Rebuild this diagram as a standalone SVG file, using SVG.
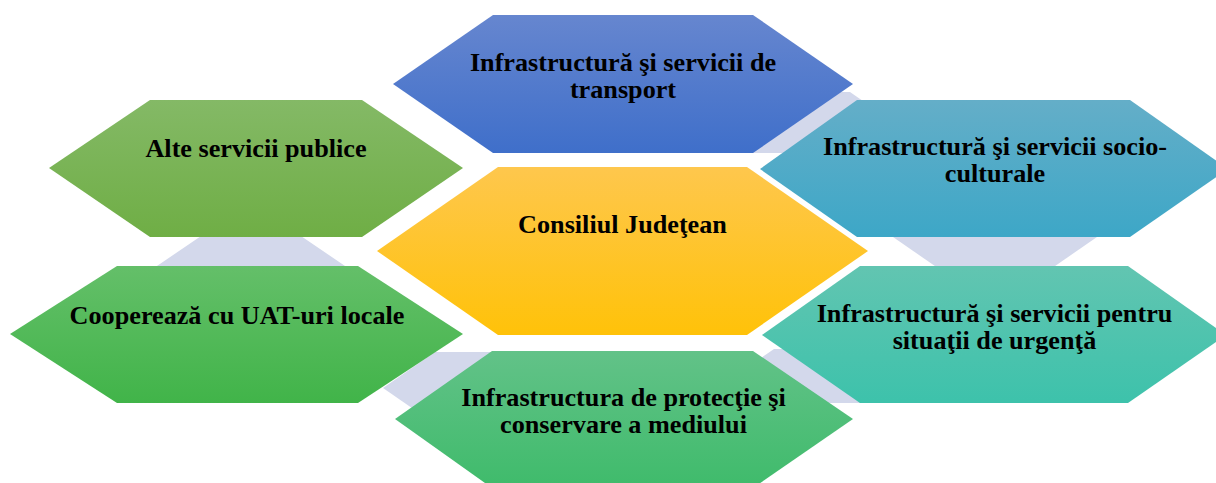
<svg xmlns="http://www.w3.org/2000/svg" width="1216" height="483" viewBox="0 0 1216 483">
<style>
.t{font-family:"Liberation Serif","Times New Roman",serif;font-weight:bold;font-size:26.2px;fill:#000;text-anchor:middle}
.lav{fill:#d3d8eb}
</style>
<defs>
<linearGradient id="gBlue" x1="0" y1="0" x2="0" y2="1"><stop offset="0" stop-color="#6686cf"/><stop offset="1" stop-color="#3f6fca"/></linearGradient>
<linearGradient id="gGreen1" x1="0" y1="0" x2="0" y2="1"><stop offset="0" stop-color="#84b966"/><stop offset="1" stop-color="#6fae45"/></linearGradient>
<linearGradient id="gTeal1" x1="0" y1="0" x2="0" y2="1"><stop offset="0" stop-color="#64aec8"/><stop offset="1" stop-color="#3da7c7"/></linearGradient>
<linearGradient id="gYellow" x1="0" y1="0" x2="0" y2="1"><stop offset="0" stop-color="#fec74d"/><stop offset="1" stop-color="#ffc209"/></linearGradient>
<linearGradient id="gGreen2" x1="0" y1="0" x2="0" y2="1"><stop offset="0" stop-color="#64bf69"/><stop offset="1" stop-color="#41b449"/></linearGradient>
<linearGradient id="gTeal2" x1="0" y1="0" x2="0" y2="1"><stop offset="0" stop-color="#62c5b1"/><stop offset="1" stop-color="#3dc2ab"/></linearGradient>
<linearGradient id="gGreen3" x1="0" y1="0" x2="0" y2="1"><stop offset="0" stop-color="#62c288"/><stop offset="1" stop-color="#3fbb6b"/></linearGradient>
</defs>
<rect width="1216" height="483" fill="#fff"/>
<g id="connectors">
<polygon class="lav" points="750,92 850,92 894,122.5 850,153 750,153 706,122.5"/>
<polygon class="lav" points="945,201 1045,201 1097,237 1045,273 945,273 893,237"/>
<polygon class="lav" points="774,349 874,349 913,376 874,403 774,403 735,376"/>
<polygon class="lav" points="435,352 531,352 583,388 531,424 435,424 383,388"/>
<polygon class="lav" points="204,234 298,234 348,268 298,302 204,302 154,268"/>
</g>
<g id="node-transport">
<polygon points="493,15 753,15 853,84 753,153 493,153 393,84" fill="url(#gBlue)"/>
<text class="t" x="623" y="71">Infrastructură şi servicii de</text>
<text class="t" x="623" y="98">transport</text>
</g>
<g id="node-alte">
<polygon points="150,100 362,100 463,168 362,237 150,237 49,168" fill="url(#gGreen1)"/>
<text class="t" x="256" y="156.5">Alte servicii publice</text>
</g>
<g id="node-socio">
<polygon points="857,100 1130,100 1228,169 1130,237 857,237 760,169" fill="url(#gTeal1)"/>
<text class="t" x="995" y="154.5">Infrastructură şi servicii socio-</text>
<text class="t" x="995" y="181.5">culturale</text>
</g>
<g id="node-coop">
<polygon points="117,266 358,266 463,334 358,403 117,403 10,334" fill="url(#gGreen2)"/>
<text class="t" x="237" y="323.5">Cooperează cu UAT-uri locale</text>
</g>
<g id="node-urgenta">
<polygon points="860,266 1128,266 1226,335 1128,403 860,403 762,335" fill="url(#gTeal2)"/>
<text class="t" x="994.5" y="321.5">Infrastructură şi servicii pentru</text>
<text class="t" x="994.5" y="348.5">situaţii de urgenţă</text>
</g>
<g id="node-mediu">
<polygon points="492,351 753,351 853,419 753,488 492,488 395,419" fill="url(#gGreen3)"/>
<text class="t" x="623.5" y="405.5">Infrastructura de protecţie şi</text>
<text class="t" x="623.5" y="432.5">conservare a mediului</text>
</g>
<g id="node-center">
<polygon points="498,167 747,167 868,251 747,335 498,335 377,251" fill="url(#gYellow)"/>
<text class="t" x="622.5" y="232.5">Consiliul Judeţean</text>
</g>
</svg>
